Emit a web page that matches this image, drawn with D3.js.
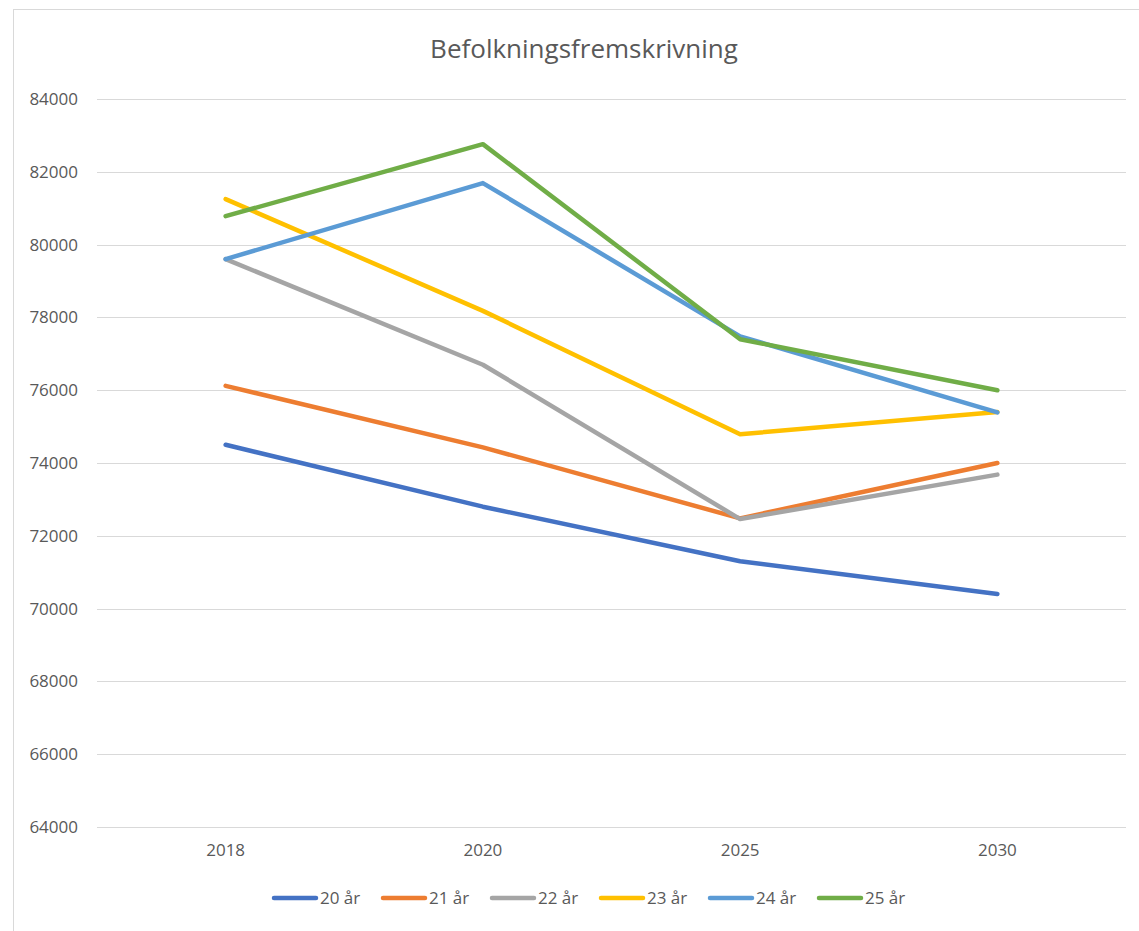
<!DOCTYPE html>
<html>
<head>
<meta charset="utf-8">
<script src="https://cdn.jsdelivr.net/npm/d3@7"></script>
<style>
  body { margin: 0; background: #fff; }
  text { font-family: "Open Sans", sans-serif; fill: #595959; }
</style>
</head>
<body>
<div id="chart"></div>
<script>
// data
var years = ["2018", "2020", "2025", "2030"];
var seriesNames = ["20 år", "21 år", "22 år", "23 år", "24 år", "25 år"];
var s20 = [74500, 72800, 71300, 70400];
var s21 = [76120, 74430, 72480, 74000];
var s22 = [79600, 76700, 72460, 73680];
var s23 = [81250, 78180, 74790, 75400];
var s24 = [79600, 81690, 77480, 75390];
var s25 = [80780, 82760, 77400, 76000];
var yTicks = [64000, 66000, 68000, 70000, 72000, 74000, 76000, 78000, 80000, 82000, 84000];
var colors = ["#4472C4", "#ED7D31", "#A5A5A5", "#FFC000", "#5B9BD5", "#70AD47"];

var allSeries = [s20, s21, s22, s23, s24, s25];

// svg params
var svgWidth = 1139;
var svgHeight = 931;
var margin = { top: 99, right: 13, bottom: 104, left: 97 };
var chartWidth = svgWidth - margin.left - margin.right;
var chartHeight = svgHeight - margin.top - margin.bottom;

var svg = d3.select("#chart")
  .append("svg")
  .attr("width", svgWidth)
  .attr("height", svgHeight);

// outer frame of the chart
svg.append("rect")
  .attr("x", 13.5)
  .attr("y", 9.5)
  .attr("width", 1160)
  .attr("height", 960)
  .attr("fill", "none")
  .attr("stroke", "#d9d9d9");

// title
svg.append("text")
  .attr("x", 584)
  .attr("y", 58)
  .attr("text-anchor", "middle")
  .style("font-size", "26px")
  .text("Befolkningsfremskrivning");

var chartGroup = svg.append("g")
  .attr("transform", `translate(${margin.left}, ${margin.top})`);

// scales
var xScale = d3.scaleBand()
  .domain(years)
  .range([0, chartWidth]);

var yScale = d3.scaleLinear()
  .domain([64000, 84000])
  .range([chartHeight, 0]);

// gridlines
chartGroup.append("g")
  .selectAll("line")
  .data(yTicks)
  .enter()
  .append("line")
  .attr("x1", 0)
  .attr("x2", chartWidth)
  .attr("y1", d => Math.round(yScale(d)) + 0.5)
  .attr("y2", d => Math.round(yScale(d)) + 0.5)
  .attr("stroke", "#d9d9d9")
  .attr("stroke-width", 1);

// axes
var leftAxis = d3.axisLeft(yScale).tickValues(yTicks).tickSize(0).tickPadding(19).tickFormat(d => d);
var bottomAxis = d3.axisBottom(xScale).tickSize(0).tickPadding(17);

var yAxisG = chartGroup.append("g").call(leftAxis);
yAxisG.select(".domain").remove();
yAxisG.selectAll("text").style("font-size", "17px").style("font-family", "Open Sans, sans-serif").attr("fill", "#595959");

var xAxisG = chartGroup.append("g")
  .attr("transform", `translate(0, ${chartHeight})`)
  .call(bottomAxis);
xAxisG.select(".domain").remove();
xAxisG.selectAll("text").style("font-size", "17px").style("font-family", "Open Sans, sans-serif").attr("fill", "#595959");

// lines
var line = d3.line()
  .x((d, i) => xScale(years[i]) + xScale.bandwidth() / 2)
  .y(d => yScale(d));

chartGroup.selectAll(".series")
  .data(allSeries)
  .enter()
  .append("path")
  .attr("class", "series")
  .attr("d", d => line(d))
  .attr("fill", "none")
  .attr("stroke", (d, i) => colors[i])
  .attr("stroke-width", 4.5)
  .attr("stroke-linejoin", "round")
  .attr("stroke-linecap", "round");

// legend
var legend = svg.append("g")
  .attr("transform", "translate(272, 898)");

var item = legend.selectAll(".item")
  .data(seriesNames)
  .enter()
  .append("g")
  .attr("class", "item")
  .attr("transform", (d, i) => `translate(${i * 109}, 0)`);

item.append("line")
  .attr("x1", 2)
  .attr("x2", 44)
  .attr("y1", 0)
  .attr("y2", 0)
  .attr("stroke", (d, i) => colors[i])
  .attr("stroke-width", 4.5)
  .attr("stroke-linecap", "round");

item.append("text")
  .attr("x", 48)
  .attr("y", 0)
  .attr("dy", "0.35em")
  .style("font-size", "17px")
  .text(d => d);
</script>
</body>
</html>
